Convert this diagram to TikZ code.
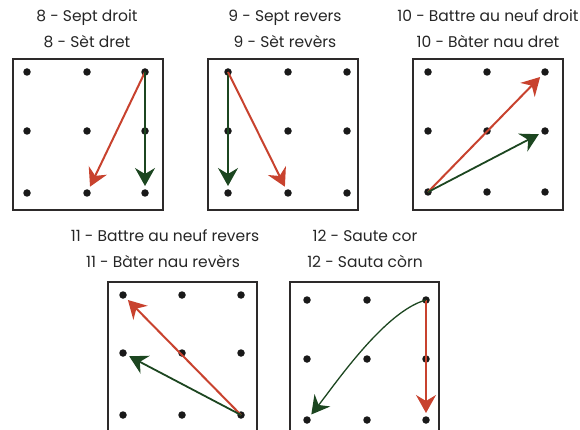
\documentclass[tikz,border=0pt]{standalone}
\usepackage{fontspec}
\setmainfont{Poppins}
\usetikzlibrary{arrows.meta}
\definecolor{redarr}{RGB}{200,66,46}
\definecolor{greenarr}{RGB}{28,70,32}
\definecolor{boxcol}{RGB}{45,42,42}
\tikzset{
  gridbox/.style={draw=boxcol,line width=2.4pt},
  peg/.style={circle,fill=black!90,inner sep=0pt,minimum size=7.5pt},
  ttl/.style={font=\fontsize{15.5}{15.5}\selectfont,text=black!85,inner sep=0pt,anchor=base},
  redmove/.style={draw=redarr,line width=2pt,-{Stealth[length=18pt,width=20pt,inset=6pt]},shorten >=7pt},
  greenmove/.style={draw=greenarr,line width=1.8pt,-{Stealth[length=18pt,width=20pt,inset=6pt]},shorten >=7pt},
}
\newcommand{\pegs}[7]{% name, x1,x2,x3, y1,y2,y3
  \node[peg] (#1-1-1) at (#2,#5) {};
  \node[peg] (#1-2-1) at (#3,#5) {};
  \node[peg] (#1-3-1) at (#4,#5) {};
  \node[peg] (#1-1-2) at (#2,#6) {};
  \node[peg] (#1-2-2) at (#3,#6) {};
  \node[peg] (#1-3-2) at (#4,#6) {};
  \node[peg] (#1-1-3) at (#2,#7) {};
  \node[peg] (#1-2-3) at (#3,#7) {};
  \node[peg] (#1-3-3) at (#4,#7) {};
}
\begin{document}
\begin{tikzpicture}[x=1pt,y=-1pt]
\useasboundingbox (0,0) rectangle (580,430);
% boxes
\draw[gridbox] (13,59) rectangle (163,210);
\draw[gridbox] (208,59) rectangle (358,210);
\draw[gridbox] (413,59) rectangle (563,210);
\draw[gridbox] (108,282) rectangle (257,436);
\draw[gridbox] (290,282) rectangle (439,436);
% pegs
\pegs{A}{27}{87}{145}{72}{131}{193}
\pegs{B}{228}{288}{347}{72}{131}{193}
\pegs{C}{428}{487}{545}{72}{131}{192}
\pegs{D}{123}{182}{241}{295}{353}{415}
\pegs{E}{307}{367}{426}{300}{359}{420}
% titles
\node[ttl] (tA1) at (87,22) {8 - Sept droit};
\node[ttl] (tA2) at (87,48) {8 - Sèt dret};
\node[ttl] (tB1) at (285,22) {9 - Sept revers};
\node[ttl] (tB2) at (285,48) {9 - Sèt revèrs};
\node[ttl] (tC1) at (488,22) {10 - Battre au neuf droit};
\node[ttl] (tC2) at (488,48) {10 - Bàter nau dret};
\node[ttl] (tD1) at (165,241) {11 - Battre au neuf revers};
\node[ttl] (tD2) at (163,267) {11 - Bàter nau revèrs};
\node[ttl] (tE1) at (365,241) {12 - Saute cor};
\node[ttl] (tE2) at (365,267) {12 - Sauta còrn};
% moves
\draw[redmove] (A-3-1.center) -- (A-2-3.center);
\draw[greenmove] (A-3-1.center) -- (A-3-3.center);
\draw[greenmove] (B-1-1.center) -- (B-1-3.center);
\draw[redmove] (B-1-1.center) -- (B-2-3.center);
\draw[redmove] (C-1-3.center) -- (C-3-1.center);
\draw[greenmove] (C-1-3.center) -- (C-3-2.center);
\draw[redmove] (D-3-3.center) -- (D-1-1.center);
\draw[greenmove] (D-3-3.center) -- (D-1-2.center);
\draw[redmove,line width=1.6pt] (E-3-1.center) -- (E-3-3.center);
\draw[greenmove,line width=1.3pt] (E-3-1.center) to[out=195,in=52,out distance=42pt,in distance=48pt] (E-1-3.center);
\end{tikzpicture}
\end{document}
